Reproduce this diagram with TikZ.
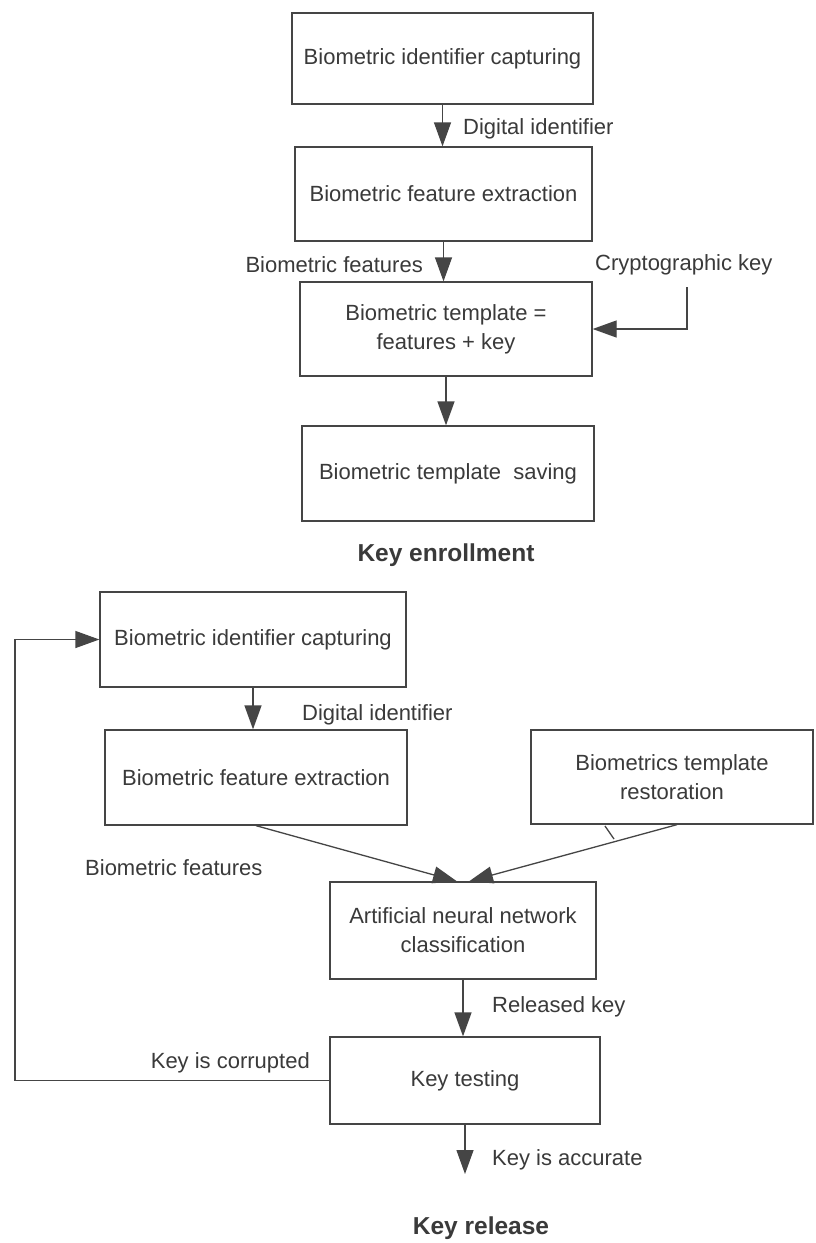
\documentclass[tikz,border=0pt]{standalone}
\usepackage{fontspec}
\setmainfont{Liberation Sans}
\usetikzlibrary{arrows.meta,calc}
\definecolor{ink}{HTML}{3A3A3A}
\definecolor{lineink}{HTML}{454545}
\begin{document}
\begin{tikzpicture}[x=1pt,y=-1pt,
  box/.style={draw=lineink,line width=1.3pt,fill=none,text=ink,align=center,inner sep=0pt,
    font=\fontsize{22}{29}\selectfont},
  lbl/.style={text=ink,inner sep=0pt,font=\fontsize{22}{26}\selectfont},
  ttl/.style={text=ink,inner sep=0pt,font=\fontsize{24.5}{28}\selectfont\bfseries},
  arr/.style={draw=lineink,line width=1.3pt,-{Triangle[length=24pt,width=17pt]}},
  ln/.style={draw=lineink,line width=1.3pt}]
\path[use as bounding box,fill=white] (0,0) rectangle (816,1243);

% Key enrollment
\node[box,minimum width=301pt,minimum height=91pt] (b1) at (442.5,58.5) {Biometric identifier capturing};
\node[box,minimum width=297pt,minimum height=94pt] (b2) at (443.5,194) {Biometric feature extraction};
\node[box,minimum width=292pt,minimum height=94pt] (b3) at (446,329) {Biometric template =\\features + key};
\node[box,minimum width=292pt,minimum height=95pt] (b4) at (448,473.5) {Biometric template\ \ saving};
\node[ttl] (t1) at (446,555) {Key enrollment};

\node[lbl,anchor=west] (l1) at (463,129) {Digital identifier};
\node[lbl,anchor=east] (l2) at (423,265) {Biometric features};
\node[lbl,anchor=west] (l3) at (595,265) {Cryptographic key};
\coordinate (ck) at (687,287);

\draw[arr] (b1.south) -- (b1.south |- b2.north);
\draw[arr] (b2.south) -- (b2.south |- b3.north);
\draw[arr] (ck) |- (b3.east);
\draw[arr] (b3.south) -- (b3.south |- b4.north);

% Key release
\node[box,minimum width=306pt,minimum height=95pt] (b5) at (253,639.5) {Biometric identifier capturing};
\node[box,minimum width=302pt,minimum height=95pt] (b6) at (256,777.5) {Biometric feature extraction};
\node[box,minimum width=282pt,minimum height=94pt] (b7) at (672,777) {Biometrics template\\restoration};
\node[box,minimum width=266pt,minimum height=97pt] (b8) at (463,930.5) {Artificial neural network\\classification};
\node[box,minimum width=270pt,minimum height=87pt] (b9) at (465,1080.5) {Key testing};
\node[ttl] (t2) at (481,1228) {Key release};

\node[lbl,anchor=west] (l4) at (302,715) {Digital identifier};
\node[lbl,anchor=west] (l5) at (85,868) {Biometric features};
\node[lbl,anchor=west] (l6) at (492,1007) {Released key};
\node[lbl,anchor=east] (l7) at (310,1063) {Key is corrupted};
\node[lbl,anchor=west] (l8) at (492,1160) {Key is accurate};

\coordinate (acc) at (465,1174);
\coordinate (lp) at (15,1080.5);

\draw[arr] (b5.south) -- (b5.south |- b6.north);
\draw[arr] (b6.south) -- ([xshift=-6pt]b8.north);
\draw[arr] ([xshift=5pt]b7.south) -- ([xshift=6pt]b8.north);
\draw[ln] (605,826) -- (614,839);
\draw[arr] (b8.south) -- (b8.south |- b9.north);
\draw[arr] (b9.south) -- (b9.south |- acc);
\draw[arr] (b9.west) -- (lp) |- (b5.west);
\end{tikzpicture}
\end{document}
